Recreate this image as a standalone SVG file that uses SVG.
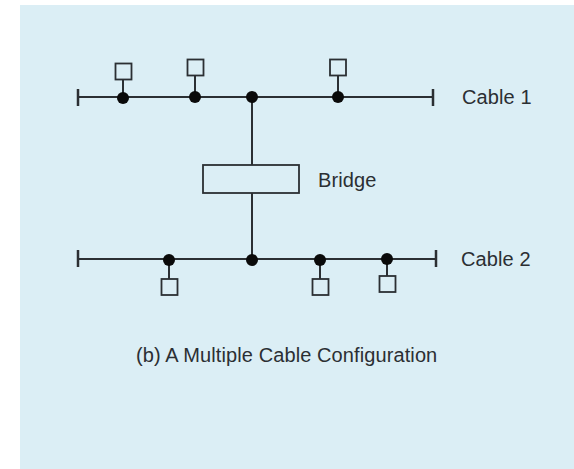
<svg xmlns="http://www.w3.org/2000/svg" width="574" height="469" viewBox="0 0 574 469">
<style>
.ln{stroke:#2b2f33;stroke-width:2;fill:none}
.cap{stroke:#2b2f33;stroke-width:2.5;fill:none}
.sq{stroke:#2b2f33;stroke-width:1.8;fill:none}
.dot{fill:#0a0a0a}
.t{font-family:"Liberation Sans",Arial,sans-serif;font-size:20px;fill:#2b2f33;letter-spacing:0.1px}
</style>
<rect x="0" y="0" width="574" height="469" fill="#ffffff"/>
<rect x="20" y="5" width="554" height="464" fill="#dbeef5"/>
<g id="connectors">
<line class="ln" x1="78" y1="97" x2="433" y2="97"/>
<line class="cap" x1="78" y1="89" x2="78" y2="106"/>
<line class="cap" x1="433" y1="89" x2="433" y2="106"/>
<line class="ln" x1="78" y1="259" x2="436" y2="259"/>
<line class="cap" x1="78" y1="250" x2="78" y2="267"/>
<line class="cap" x1="436" y1="250" x2="436" y2="267"/>
<line class="ln" x1="252" y1="97" x2="252" y2="165"/>
<line class="ln" x1="252" y1="193" x2="252" y2="259"/>
<line class="ln" x1="123" y1="80" x2="123" y2="97"/>
<line class="ln" x1="195" y1="76" x2="195" y2="97"/>
<line class="ln" x1="338" y1="76" x2="338" y2="97"/>
<line class="ln" x1="169" y1="259" x2="169" y2="279"/>
<line class="ln" x1="320" y1="259" x2="320" y2="279"/>
<line class="ln" x1="387" y1="259" x2="387" y2="276"/>
</g>
<g id="cable1">
<text class="t" x="462" y="104">Cable 1</text>
</g>
<g id="cable2">
<text class="t" x="461" y="266">Cable 2</text>
</g>
<g id="bridge">
<rect class="sq" x="203" y="165" width="96" height="28" fill="none"/>
<text class="t" x="318" y="187">Bridge</text>
</g>
<g id="taps">
<circle class="dot" cx="123" cy="98" r="6"/>
<circle class="dot" cx="195" cy="97" r="6"/>
<circle class="dot" cx="252" cy="97" r="6"/>
<circle class="dot" cx="338" cy="97" r="6"/>
<circle class="dot" cx="169" cy="260" r="6"/>
<circle class="dot" cx="252" cy="260" r="6"/>
<circle class="dot" cx="320" cy="260" r="6"/>
<circle class="dot" cx="387" cy="259" r="6"/>
</g>
<g id="station1"><rect class="sq" x="115.5" y="63.5" width="16" height="16"/></g>
<g id="station2"><rect class="sq" x="187.5" y="59.5" width="16" height="16"/></g>
<g id="station3"><rect class="sq" x="330" y="59.5" width="16" height="16"/></g>
<g id="station4"><rect class="sq" x="161.5" y="279" width="16" height="16"/></g>
<g id="station5"><rect class="sq" x="312.5" y="279" width="16" height="16"/></g>
<g id="station6"><rect class="sq" x="379.5" y="276" width="16" height="16"/></g>
<g id="caption">
<text class="t" x="136" y="362">(b) A Multiple Cable Configuration</text>
</g>
</svg>
